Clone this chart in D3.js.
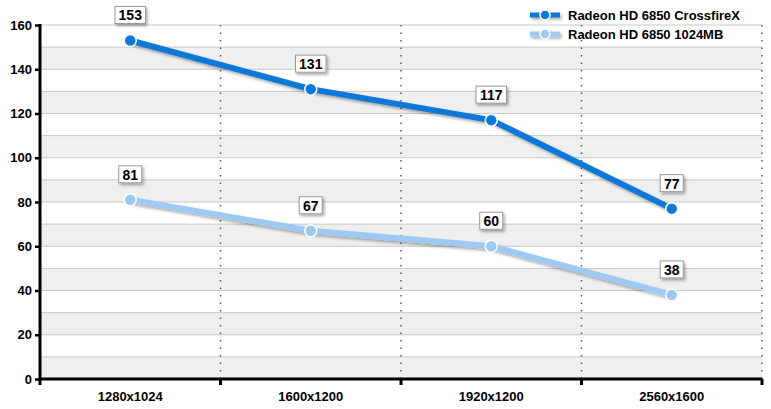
<!DOCTYPE html>
<html><head><meta charset="utf-8">
<script src="https://cdn.jsdelivr.net/npm/d3@7"></script>
<style>body{margin:0;background:#fff}svg{display:block;font-family:Arial,"Liberation Sans",sans-serif}</style>
</head><body><svg id="c" width="771" height="409"></svg>
<script>
const categories = ["1280x1024","1600x1200","1920x1200","2560x1600"];
const seriesNames = ["Radeon HD 6850 CrossfireX","Radeon HD 6850 1024MB"];
const crossfire = [153,131,117,77];
const single = [81,67,60,38];
const yTicks = [0,20,40,60,80,100,120,140,160];
const colors = ["#0c78d8","#9ccaf2"];

const svg = d3.select("#c");
const pL = 40, pR = 762, pT = 25, pB = 379;
const x = d3.scaleBand().domain(categories).range([pL,pR]);
const y = d3.scaleLinear().domain([0,160]).range([pB,pT]);

const defs = svg.append("defs");
const f = defs.append("filter").attr("id","sh").attr("filterUnits","userSpaceOnUse")
  .attr("x",0).attr("y",0).attr("width",771).attr("height",409);
f.append("feDropShadow").attr("dx",1.5).attr("dy",2).attr("stdDeviation",1.5).attr("flood-color","#000").attr("flood-opacity",0.35);

// bands
const bands = d3.range(0,160,10);
svg.selectAll("rect.band").data(bands).enter().append("rect")
  .attr("x",pL).attr("width",pR-pL)
  .attr("y",d=>y(d+10)).attr("height",d=>y(d)-y(d+10))
  .attr("fill",(d,i)=> i%2===0 ? "#efefef" : "#ffffff");
// gridlines
svg.selectAll("line.grid").data(d3.range(10,170,10)).enter().append("line")
  .attr("x1",pL).attr("x2",pR).attr("y1",d=>y(d)).attr("y2",d=>y(d))
  .attr("stroke","#c8c8c8").attr("stroke-width",1);
// vertical dotted
const bounds = categories.map(c=>x(c)+x.bandwidth());
svg.selectAll("line.vd").data(bounds).enter().append("line")
  .attr("x1",d=>d).attr("x2",d=>d).attr("y1",pT).attr("y2",pB)
  .attr("stroke","#555").attr("stroke-width",1.5).attr("stroke-dasharray","1.5,6");

// y axis
const yAxis = d3.axisLeft(y).tickValues(yTicks).tickSize(5).tickPadding(3);
const gy = svg.append("g").attr("transform",`translate(${pL},0)`).call(yAxis);
gy.select(".domain").remove();
gy.selectAll(".tick line").attr("stroke","#000").attr("stroke-width",2.5);
gy.selectAll(".tick text").attr("font-size",13).attr("font-weight","bold").attr("fill","#000").attr("font-family","Arial, 'Liberation Sans', sans-serif");
svg.append("line").attr("x1",pL).attr("x2",pL).attr("y1",pT-1).attr("y2",pB+6).attr("stroke","#000").attr("stroke-width",3);

// x axis
svg.append("line").attr("x1",pL).attr("x2",pR).attr("y1",pB).attr("y2",pB).attr("stroke","#000").attr("stroke-width",3);
svg.selectAll("line.xt").data(bounds).enter().append("line")
  .attr("x1",d=>d).attr("x2",d=>d).attr("y1",pB).attr("y2",pB+6).attr("stroke","#000").attr("stroke-width",3);
svg.selectAll("text.xl").data(categories).enter().append("text")
  .attr("x",d=>x(d)+x.bandwidth()/2).attr("y",pB+22).attr("text-anchor","middle")
  .attr("font-size",13).attr("font-weight","bold").text(d=>d);

// lines
const series = [single, crossfire];
const sc = [colors[1], colors[0]];
const line = d3.line().x((d,i)=>x(categories[i])+x.bandwidth()/2).y(d=>y(d));
series.forEach((s,k)=>{
  svg.append("path").datum(s).attr("d",line).attr("fill","none").attr("stroke",sc[k])
    .attr("stroke-width",6).attr("stroke-linejoin","round").attr("filter","url(#sh)");
});
series.forEach((s,k)=>{
  svg.selectAll(null).data(s).enter().append("circle")
    .attr("cx",(d,i)=>x(categories[i])+x.bandwidth()/2).attr("cy",d=>y(d)).attr("r",6)
    .attr("fill",sc[k]).attr("stroke","#fff").attr("stroke-width",1.5);
});
// labels
series.forEach((s,k)=>{
  s.forEach((v,i)=>{
    const cx = x(categories[i])+x.bandwidth()/2, cy = y(v);
    const t = String(v);
    const w = t.length*7.5+8;
    svg.append("rect").attr("x",cx-w/2).attr("y",cy-34).attr("width",w).attr("height",17)
      .attr("fill","#fff").attr("stroke","#9a9a9a").attr("stroke-width",1).attr("filter","url(#sh)");
    svg.append("text").attr("x",cx).attr("y",cy-20).attr("text-anchor","middle")
      .attr("font-size",14).attr("font-weight","bold").text(t);
  });
});

// legend
seriesNames.forEach((n,i)=>{
  const ly = 15 + i*19;
  const g = svg.append("g");
  g.append("line").attr("x1",530).attr("x2",560).attr("y1",ly).attr("y2",ly).attr("stroke",colors[i]).attr("stroke-width",5).attr("filter","url(#sh)");
  g.append("circle").attr("cx",545).attr("cy",ly).attr("r",5).attr("fill",colors[i]).attr("stroke","#fff").attr("stroke-width",1.5);
  g.append("text").attr("x",568).attr("y",ly+4.5).attr("font-size",13).attr("font-weight","bold").text(n);
});
</script></body></html>
